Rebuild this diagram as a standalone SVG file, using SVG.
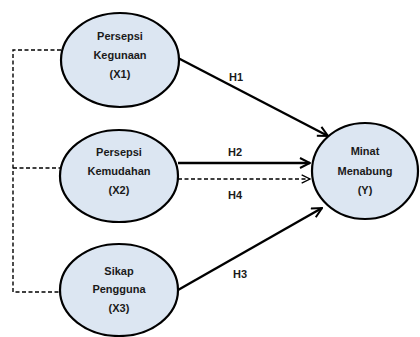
<svg xmlns="http://www.w3.org/2000/svg" width="420" height="337" viewBox="0 0 420 337">
<style>
.node ellipse{fill:#dce6f2;stroke:#000;stroke-width:2.2}
.node text,.lbl{font-family:"Liberation Sans",Arial,sans-serif;font-weight:bold;font-size:11px;fill:#1a1a1a;text-anchor:middle;dominant-baseline:central}
.solid{stroke:#000;stroke-width:2.4;fill:none}
.dash{stroke:#000;stroke-width:1.4;fill:none;stroke-dasharray:4,2.5}
</style>
<defs>
<marker id="arr" viewBox="0 0 12 12" refX="11" refY="6" markerWidth="12" markerHeight="12" markerUnits="userSpaceOnUse" orient="auto">
<path d="M1,1 L11,6 L1,11" fill="none" stroke="#000" stroke-width="2"/>
</marker>
<marker id="arrd" viewBox="0 0 12 12" refX="11" refY="6" markerWidth="10" markerHeight="10" markerUnits="userSpaceOnUse" orient="auto">
<path d="M1,1 L11,6 L1,11" fill="none" stroke="#000" stroke-width="1.6"/>
</marker>
</defs>
<rect width="420" height="337" fill="#fff"/>
<g id="connectors">
<path class="dash" d="M61,50 H13 V292 H61"/>
<path class="dash" d="M13,168 H61"/>
<line class="solid" x1="178" y1="58" x2="328" y2="136" marker-end="url(#arr)"/>
<line class="solid" x1="178" y1="163" x2="310" y2="163" marker-end="url(#arr)"/>
<line class="dash" x1="178" y1="179" x2="310" y2="179" marker-end="url(#arrd)"/>
<line class="solid" x1="178" y1="290" x2="322" y2="208" marker-end="url(#arr)"/>
<text class="lbl" x="236" y="77">H1</text>
<text class="lbl" x="235" y="152">H2</text>
<text class="lbl" x="235" y="195">H4</text>
<text class="lbl" x="240" y="274">H3</text>
</g>
<g id="X1" class="node">
<ellipse cx="120" cy="60" rx="59" ry="47"/>
<text x="120" y="36">Persepsi</text>
<text x="120" y="55">Kegunaan</text>
<text x="120" y="74">(X1)</text>
</g>
<g id="X2" class="node">
<ellipse cx="119" cy="176" rx="59" ry="46"/>
<text x="119" y="152">Persepsi</text>
<text x="119" y="171">Kemudahan</text>
<text x="119" y="190">(X2)</text>
</g>
<g id="X3" class="node">
<ellipse cx="119" cy="290" rx="59" ry="46"/>
<text x="119" y="271">Sikap</text>
<text x="119" y="289">Pengguna</text>
<text x="119" y="308">(X3)</text>
</g>
<g id="Y" class="node">
<ellipse cx="365" cy="171" rx="53" ry="48"/>
<text x="365" y="151">Minat</text>
<text x="365" y="171">Menabung</text>
<text x="365" y="190">(Y)</text>
</g>
</svg>
